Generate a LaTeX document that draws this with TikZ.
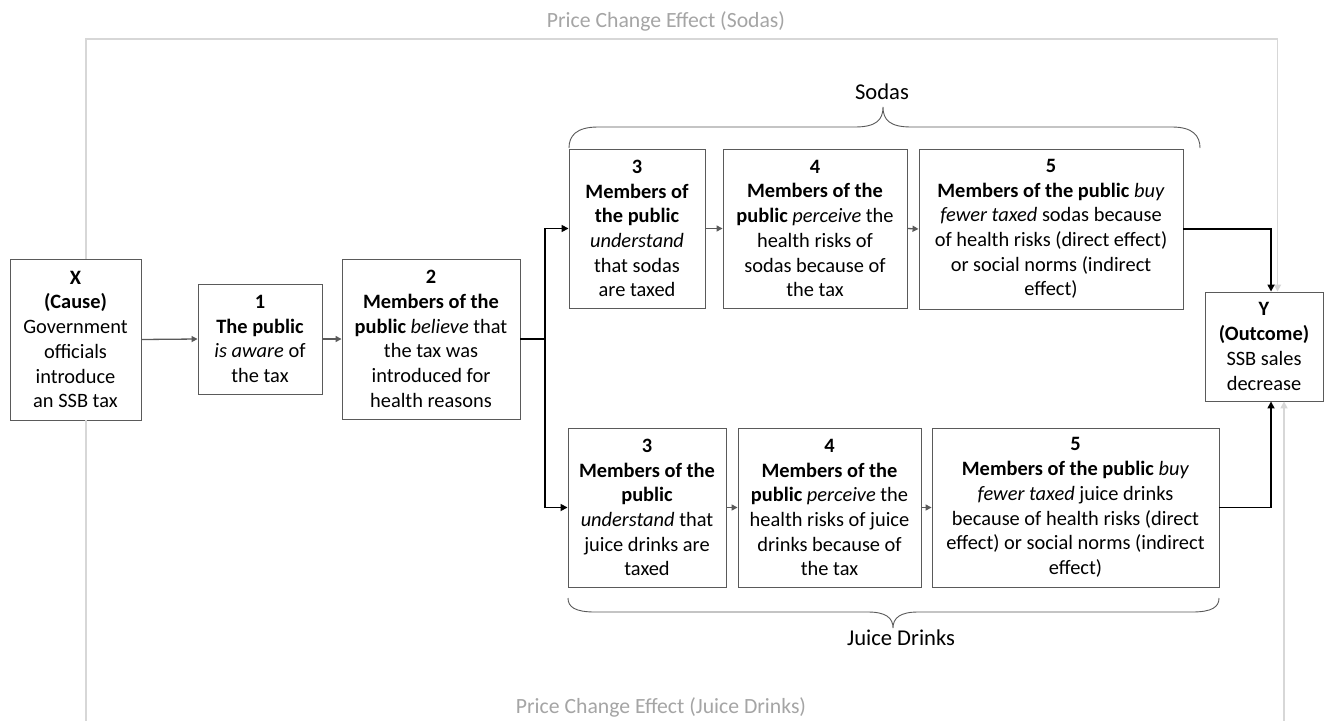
\documentclass[tikz,border=0pt]{standalone}
\usepackage{fontspec}
\setmainfont{Carlito}
\usetikzlibrary{arrows.meta}
\definecolor{boxline}{RGB}{90,90,90}
\definecolor{pricegrey}{RGB}{215,215,215}
\definecolor{pricetext}{RGB}{165,165,165}
\tikzset{
  stepbox/.style={draw=boxline, line width=0.9pt, rectangle, align=center, inner sep=0pt,
    font=\fontsize{20.4}{24.7}\selectfont},
  smallarrow/.style={draw=boxline, line width=1.3pt, -{Triangle[length=6pt,width=6pt]}},
  mainarrow/.style={draw=black, line width=1.6pt, -{Triangle[length=7pt,width=7pt]}},
  pricearrow/.style={draw=pricegrey, line width=1.6pt, -{Triangle[length=7pt,width=7pt]}},
  bracepath/.style={draw=boxline, line width=0.9pt},
  lbl/.style={font=\fontsize{22.6}{27}\selectfont, inner sep=0pt},
  pricelbl/.style={font=\fontsize{21.7}{26}\selectfont, inner sep=0pt, text=pricetext},
}
\begin{document}
\begin{tikzpicture}[x=1pt,y=-1pt]
\clip (0,0) rectangle (1324,720);
\useasboundingbox (0,0) rectangle (1324,720);
\fill[white] (0,0) rectangle (1324,720);

% boxes
\node[stepbox, minimum width=131pt, minimum height=161pt] (X) at (75.5,339.5)
  {\textbf{X}\\\textbf{(Cause)}\\Government\\officials\\introduce\\an SSB tax};
\node[stepbox, minimum width=124pt, minimum height=110pt] (b1) at (260,339)
  {\textbf{1}\\\textbf{The public}\\\textit{is aware} of\\the tax};
\node[stepbox, minimum width=178pt, minimum height=160pt] (b2) at (431,339)
  {\textbf{2}\\\textbf{Members of the}\\\textbf{public} \textit{believe} that\\the tax was\\introduced for\\health reasons};
\node[stepbox, minimum width=136pt, minimum height=159pt] (s3) at (637,228.5)
  {\textbf{3}\\\textbf{Members of}\\\textbf{the public}\\\textit{understand}\\that sodas\\are taxed};
\node[stepbox, minimum width=184pt, minimum height=159pt] (s4) at (815,228.5)
  {\textbf{4}\\\textbf{Members of the}\\\textbf{public} \textit{perceive} the\\health risks of\\sodas because of\\the tax};
\node[stepbox, minimum width=264pt, minimum height=160pt] (s5) at (1051,229)
  {\textbf{5}\\\textbf{Members of the public} \textit{buy}\\\textit{fewer taxed} sodas because\\of health risks (direct effect)\\or social norms (indirect\\effect)};
\node[stepbox, minimum width=118pt, minimum height=109pt] (Y) at (1264,346.5)
  {\textbf{Y}\\\textbf{(Outcome)}\\SSB sales\\decrease};
\node[stepbox, minimum width=158pt, minimum height=159pt] (j3) at (647,507.5)
  {\textbf{3}\\\textbf{Members of the}\\\textbf{public}\\\textit{understand} that\\juice drinks are\\taxed};
\node[stepbox, minimum width=183pt, minimum height=159pt] (j4) at (829.5,507.5)
  {\textbf{4}\\\textbf{Members of the}\\\textbf{public} \textit{perceive} the\\health risks of juice\\drinks because of\\the tax};
\node[stepbox, minimum width=287pt, minimum height=159pt] (j5) at (1075.5,507.5)
  {\textbf{5}\\\textbf{Members of the public} \textit{buy}\\\textit{fewer taxed} juice drinks\\because of health risks (direct\\effect) or social norms (indirect\\effect)};

% labels
\node[pricelbl] (ptitle) at (666,21) {Price Change Effect (Sodas)};
\node[pricelbl] (pbottom) at (661,707) {Price Change Effect (Juice Drinks)};
\node[lbl] (sodas) at (882,92) {Sodas};
\node[lbl] (juice) at (901,638) {Juice Drinks};

% price change paths
\coordinate (pt) at (700,39);
\coordinate (pb) at (700,740);
\draw[pricearrow] ([xshift=10.5pt]X.north) |- (pt) -| ([xshift=13.5pt]Y.north);
\draw[pricearrow] ([xshift=10.5pt]X.south) |- (pb) -| ([xshift=20pt]Y.south);

% connectors
\draw[smallarrow] (X.east) -- (b1.west);
\draw[smallarrow] (b1.east) -- (b2.west);
\coordinate (br) at (545,339);
\draw[line width=1.6pt] (b2.east) -- (br);
\draw[mainarrow] (br) |- (s3.west);
\draw[mainarrow] (br) |- (j3.west);
\draw[smallarrow] (s3.east) -- (s4.west);
\draw[smallarrow] (s4.east) -- (s5.west);
\draw[smallarrow] (j3.east) -- (j4.west);
\draw[smallarrow] (j4.east) -- (j5.west);
\draw[mainarrow] (s5.east) -| ([xshift=7pt]Y.north);
\draw[mainarrow] (j5.east) -| ([xshift=7pt]Y.south);

% braces
\draw[bracepath] (569,148) .. controls (569,136) and (576,127) .. (598,127) -- (855,127)
  .. controls (876,127) and (883,120) .. (883,107)
  .. controls (883,120) and (890,127) .. (911,127) -- (1172,127)
  .. controls (1193,127) and (1200,136) .. (1200,148);
\draw[bracepath] (568,598) .. controls (568,607) and (575,612) .. (595,612) -- (868,612)
  .. controls (886,612) and (893,618) .. (893,628)
  .. controls (893,618) and (900,612) .. (918,612) -- (1192,612)
  .. controls (1212,612) and (1219,607) .. (1219,598);
\end{tikzpicture}
\end{document}
